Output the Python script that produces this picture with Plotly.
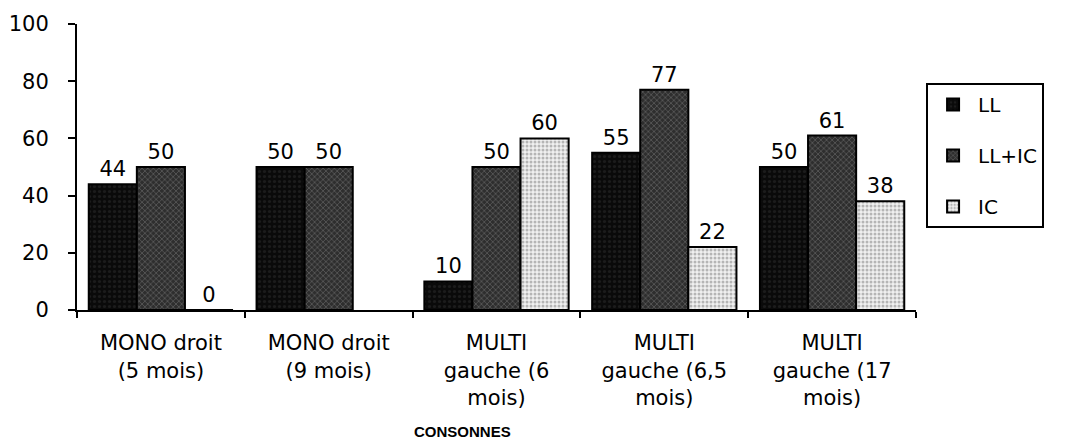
import plotly.graph_objects as go

categories = ["MONO droit<br>(5 mois)", "MONO droit<br>(9 mois)", "MULTI<br>gauche (6<br>mois)",
              "MULTI<br>gauche (6,5<br>mois)", "MULTI<br>gauche (17<br>mois)"]
ll = [44, 50, 10, 55, 50]
ll_ic = [50, 50, 50, 77, 61]
ic = [0, None, 60, 22, 38]

font = "DejaVu Sans, Arial, sans-serif"


def labels(vals):
    return ["" if v is None else str(v) for v in vals]


fig = go.Figure()
fig.add_trace(go.Bar(
    x=categories, y=ll, name="LL", legendgroup="a", text=labels(ll), textposition="outside",
    marker=dict(color="#0a0a0a", line=dict(color="black", width=2),
                pattern=dict(shape=".", fgcolor="#2e2e2e", bgcolor="#0a0a0a", size=5, solidity=0.3)),
))
fig.add_trace(go.Bar(
    x=categories, y=ll_ic, name="LL+IC", legendgroup="b", text=labels(ll_ic), textposition="outside",
    marker=dict(color="#444", line=dict(color="black", width=2),
                pattern=dict(shape="x", fgcolor="#8a8a8a", bgcolor="#2e2e2e", size=4, solidity=0.35)),
))
fig.add_trace(go.Bar(
    x=categories, y=ic, name="IC", legendgroup="c", text=labels(ic), textposition="outside",
    marker=dict(color="#ddd", line=dict(color="black", width=2),
                pattern=dict(shape=".", fgcolor="#7a7a7a", bgcolor="#f0f0f0", size=4, solidity=0.45)),
))

fig.update_traces(textfont=dict(family=font, size=21, color="black"), cliponaxis=False)

fig.update_layout(
    width=1063, height=431,
    margin=dict(l=69, r=155, t=16, b=129),
    plot_bgcolor="white", paper_bgcolor="white",
    barmode="group", bargap=0.14, bargroupgap=0,
    font=dict(family=font, size=21, color="black"),
    showlegend=True,
    legend=dict(x=1.012, y=0.794, xanchor="left", yanchor="top",
                bordercolor="black", borderwidth=2, bgcolor="white",
                font=dict(family=font, size=20), itemwidth=40,
                tracegroupgap=22),
    annotations=[dict(text="<b>CONSONNES</b>", x=0.459, y=-0.425, xref="paper", yref="paper",
                      showarrow=False, font=dict(family="Liberation Sans, Arial", size=15),
                      yanchor="middle")],
)
fig.update_xaxes(showline=True, linecolor="black", linewidth=2, tickson="boundaries",
                 ticks="outside", ticklen=6, tickcolor="black", tickwidth=2, automargin=False,
                 tickfont=dict(family=font, size=21), ticklabelstandoff=13)
fig.update_yaxes(range=[0, 100], dtick=20, showline=True, linecolor="black", linewidth=2,
                 ticks="outside", ticklen=7, tickcolor="black", tickwidth=2, showgrid=False,
                 zeroline=False, automargin=False, tickfont=dict(family=font, size=21),
                 ticklabelstandoff=15)

fig.write_html("out.html")
